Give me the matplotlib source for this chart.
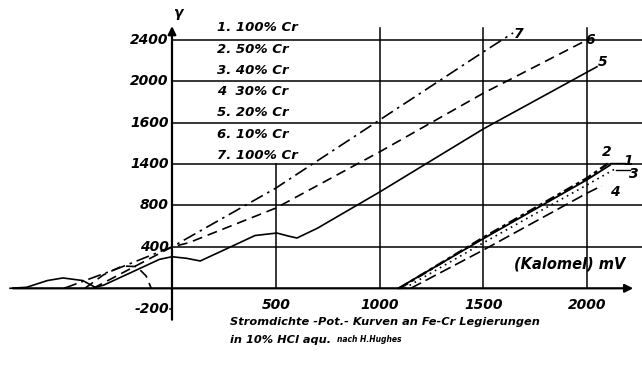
import numpy as np
import matplotlib
matplotlib.use("Agg")
import matplotlib.pyplot as plt

# Stromdichte-Potential-Kurven, Fe-Cr Legierungen in 10% HCl (nach H. Hughes)
legend_rows = ["1. 100% Cr", "2. 50% Cr", "3. 40% Cr", "4  30% Cr",
               "5. 20% Cr", "6. 10% Cr", "7. 100% Cr"]

# y-Teilung: Positionen und Beschriftung (so wie gedruckt)
y_tick_pos = [-200, 400, 800, 1200, 1600, 2000, 2400]
y_tick_lab = ["-200", "400", "800", "1400", "1600", "2000", "2400"]
x_tick_pos = [500, 1000, 1500, 2000]

# Kurven (mV, Stromdichte)
c5_x = [-780, -700, -600, -525, -430, -370, -330, -200, -60, 0, 70, 136, 250, 400, 505, 560, 602, 700, 1000, 1500, 2047]
c5_y = [0, 10, 75, 100, 75, 10, 30, 150, 280, 305, 290, 264, 370, 510, 534, 505, 486, 580, 930, 1540, 2140]

c6_x = [-420, -330, -240, -170, -125, -100, np.nan, -380, 0, 80, 500, 1000, 1500, 2000]
c6_y = [0, 130, 215, 210, 120, 0, np.nan, 0, 400, 440, 775, 1318, 1885, 2400]

c7_x = [-520, -250, 0, 500, 1000, 1500, 1643]
c7_y = [0, 200, 400, 968, 1626, 2284, 2467]

c1_x = [1090, 1500, 2000, 2110]
c1_y = [0, 480, 1050, 1190]
c2_x = [1095, 1500, 2000, 2100]
c2_y = [0, 490, 1065, 1205]
c3_x = [1120, 1500, 2000, 2140]
c3_y = [0, 440, 1000, 1160]
c4_x = [1150, 1500, 2000, 2070]
c4_y = [0, 370, 920, 990]

font = dict(fontstyle="italic", fontweight="bold", family="DejaVu Sans")

fig = plt.figure(figsize=(6.42, 3.82), dpi=100)
ax = fig.add_axes([0, 0, 1, 1])
ax.set_xlim(-828.5, 2264)
ax.set_ylim(-905, 2785)
ax.axis("off")

# Gitter
for y in y_tick_pos[1:]:
    ax.plot([0, 2264], [y, y], color="black", lw=1.1, zorder=1)
for x in x_tick_pos:
    top = 1200 if x == 500 else 2514
    ax.plot([x, x], [0, top], color="black", lw=1.1, zorder=1)
ax.plot([-8, 0], [-200, -200], color="black", lw=1.1)

# Achsen mit Pfeil
ax.annotate("", xy=(2235, 0), xytext=(-780, 0),
            arrowprops=dict(arrowstyle="-|>", color="black", lw=1.6, mutation_scale=12))
ax.annotate("", xy=(0, 2560), xytext=(0, -330),
            arrowprops=dict(arrowstyle="-|>", color="black", lw=1.6, mutation_scale=12))

for p, t in zip(y_tick_pos, y_tick_lab):
    ax.text(-15, p, t, ha="right", va="center", fontsize=10, **font)
for x in x_tick_pos:
    ax.text(x, -160, str(x), ha="center", va="center", fontsize=10, **font)

ax.text(30, 2660, "γ", ha="center", va="center", fontsize=10, **font)
ax.text(1917, 235, "(Kalomel) mV", ha="center", va="center", fontsize=10.5, **font)

# Kurven
lw = 1.2
ax.plot(c5_x, c5_y, color="black", lw=lw, zorder=3)
ax.plot(c6_x, c6_y, color="black", lw=lw, dashes=(6, 3.5), zorder=3)
ax.plot(c7_x, c7_y, color="black", lw=lw, dashes=(8, 3, 1.5, 3), zorder=3)
ax.plot(c1_x, c1_y, color="black", lw=1.3, zorder=3)
ax.plot(c2_x, c2_y, color="black", lw=1.8, dashes=(4, 1.5, 1.5, 1.5), zorder=3)
ax.plot(c3_x, c3_y, color="black", lw=1.2, dashes=(1, 2.5), zorder=3)
ax.plot(c4_x, c4_y, color="black", lw=1.2, dashes=(7, 3), zorder=3)

# Kurvennummern
ax.text(1671, 2456, "7", ha="center", va="center", fontsize=10, **font)
ax.text(2013, 2398, "6", ha="center", va="center", fontsize=10, **font)
ax.text(2076, 2186, "5", ha="center", va="center", fontsize=10, **font)
ax.text(2095, 1317, "2", ha="center", va="center", fontsize=10, **font)
ax.text(2196, 1225, "1", ha="center", va="center", fontsize=10, **font)
ax.text(2225, 1104, "3", ha="center", va="center", fontsize=10, **font)
ax.text(2134, 930, "4", ha="center", va="center", fontsize=10, **font)
ax.plot([2110, 2180], [1215, 1215], color="black", lw=1.0)
ax.plot([2140, 2205], [1140, 1140], color="black", lw=1.0)

# Legende (unterbricht das Gitter)
for i, row in enumerate(legend_rows):
    y = 2515 - i * 205
    ax.text(217, y, row, ha="left", va="center", fontsize=9.5,
            bbox=dict(facecolor="white", edgecolor="none", pad=0.5), zorder=4, **font)

fig.text(230 / 642, 1 - 322 / 382, "Stromdichte -Pot.- Kurven an Fe-Cr Legierungen",
         ha="left", va="center", fontsize=8.2, **font)
fig.text(230 / 642, 1 - 340 / 382, "in 10% HCl aqu.", ha="left", va="center", fontsize=8.2, **font)
fig.text(337 / 642, 1 - 340 / 382, "nach H.Hughes", ha="left", va="center", fontsize=5.5, **font)

fig.savefig("out.png", dpi=100, facecolor="white")
